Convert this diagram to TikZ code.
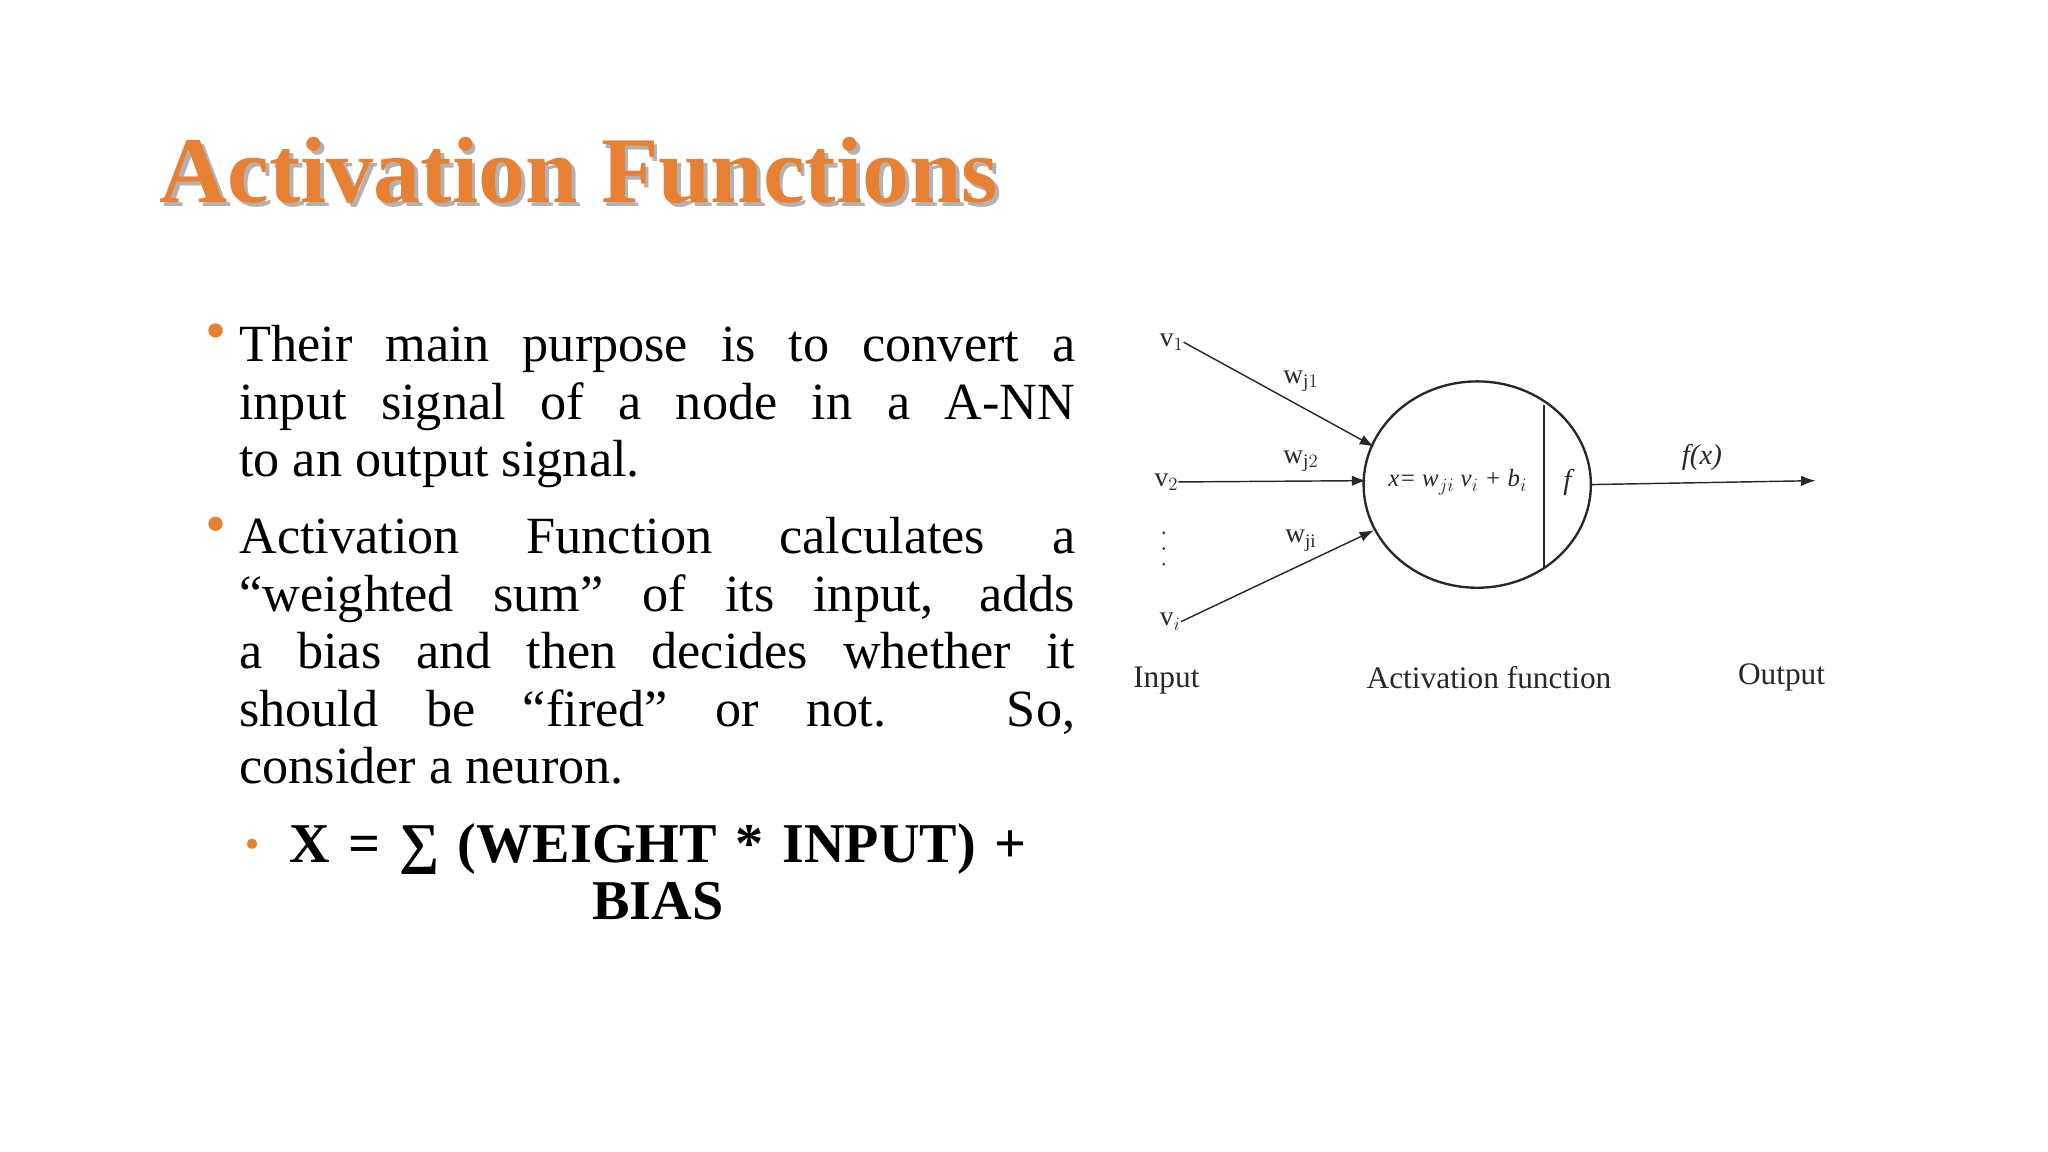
\documentclass[tikz,border=0pt]{standalone}
\usepackage{fontspec}
\setmainfont{Liberation Serif}
\usetikzlibrary{shapes.geometric,arrows.meta}
\definecolor{ttl}{RGB}{232,128,52}
\definecolor{dgray}{RGB}{40,40,40}
\begin{document}
\begin{tikzpicture}[x=1pt,y=-1pt,
  lbl/.style={inner sep=0pt,font=\fontsize{21}{22}\selectfont,text=dgray},
  arr/.style={-{Latex[length=11pt,width=8pt]},line width=1.1pt,draw=dgray},
  body/.style={inner sep=0pt,anchor=north west,text width=640pt,align=justify,font=\fontsize{40}{44}\selectfont},
  bul/.style={circle,fill=ttl,inner sep=0pt,minimum size=11pt},
  dot/.style={circle,fill=dgray,inner sep=0pt,minimum size=2.2pt}]
\useasboundingbox (0,0) rectangle (1568,882);
\fill[white] (0,0) rectangle (1568,882);
% title
\node[anchor=base west,inner sep=0pt,font=\fontsize{72}{80}\selectfont\bfseries,text=gray!60] at (125,158) {Activation Functions};
\node (title) [anchor=base west,inner sep=0pt,font=\fontsize{72}{80}\selectfont\bfseries,text=ttl] at (122,155) {Activation Functions};
% bullets
\node (b1) [bul] at (165,253) {};
\node (t1) [body] at (183,246) {\strut Their main purpose is to convert a\linebreak input signal of a node in a A-NN\linebreak to an output signal.};
\node (b2) [bul] at (165,401) {};
\node (t2) [body] at (183,393) {\strut Activation Function calculates a\linebreak “weighted sum” of its input, adds\linebreak a bias and then decides whether it\linebreak should be “fired” or not. So,\linebreak consider a neuron.};
\node (b3) [bul,minimum size=8pt] at (193,646) {};
\node (t3) [inner sep=0pt,anchor=north west,text width=577pt,align=center,font=\fontsize{43}{44}\selectfont\bfseries] at (215,629) {\strut X = ∑ (WEIGHT * INPUT) +\\ BIAS};
% diagram
\node (c) [draw=dgray,line width=1.8pt,ellipse,minimum width=174pt,minimum height=158pt,inner sep=0pt] at (1131,371) {};
\coordinate (lt) at (1182,310);
\coordinate (lb) at (1182,435);
\draw[line width=1.8pt,dgray] (lt) -- (lb);
\node (fx) [lbl,font=\fontsize{19}{20}\selectfont\itshape] at (1116,369) {x= w$_{ji}$ v$_i$ + b$_i$};
\node (ff) [lbl,font=\fontsize{22}{22}\selectfont\itshape] at (1200,369) {f};
\node (v1) [lbl] at (897,262) {v$_1$};
\node (v2) [lbl] at (893,369) {v$_2$};
\node (vi) [lbl] at (896,476) {v$_i$};
\node (d1) [dot] at (891,408) {};
\node (d2) [dot] at (891,420) {};
\node (d3) [dot] at (891,432) {};
\coordinate (e1) at (1052,342);
\coordinate (e2) at (1046,368);
\coordinate (e3) at (1052,406);
\draw[arr] (v1.east) -- (e1);
\draw[arr] (v2.east) -- (e2);
\draw[arr] (vi.east) -- (e3);
\coordinate (out) at (1390,368);
\draw[arr] (c.east) -- (out);
\node (w1) [lbl] at (996,292) {w$_{\mathrm{j}1}$};
\node (w2) [lbl] at (996,353) {w$_{\mathrm{j}2}$};
\node (w3) [lbl] at (996,414) {w$_{\mathrm{ji}}$};
\node (fo) [lbl,font=\fontsize{22}{22}\selectfont\itshape] at (1303,350) {f(x)};
\node (inp) [lbl,font=\fontsize{24}{24}\selectfont] at (893,521) {Input};
\node (act) [lbl,font=\fontsize{24}{24}\selectfont] at (1140,519) {Activation function};
\node (outp) [lbl,font=\fontsize{24}{24}\selectfont] at (1364,519) {Output};
\end{tikzpicture}
\end{document}
